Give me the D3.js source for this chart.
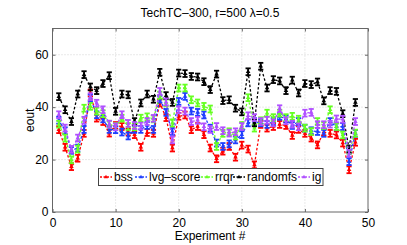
<!DOCTYPE html>
<html>
<head>
<meta charset="utf-8">
<script src="https://cdn.jsdelivr.net/npm/d3@7"></script>
<style>
  body { margin: 0; background: #fff; }
  svg { display: block; }
  text { font-family: "Liberation Sans", Arial, sans-serif; fill: #000; }
</style>
</head>
<body>
<svg id="viz_area" width="407" height="245"></svg>
<script>
// experiment index
var experiments = [1,2,3,4,5,6,7,8,9,10,11,12,13,14,15,16,17,18,19,20,21,22,23,24,
  25,26,27,28,29,30,31,32,33,34,35,36,37,38,39,40,41,42,43,44,45,46,47,48]

var bss = [31.4,24.7,17.3,20.5,30,45.4,35.8,34.5,30.1,33,32.6,30.5,29.5,24.7,30.3,30,
  41.6,36,24.4,36.5,37,31.4,32.6,29.5,24.4,20.3,23.2,25,20.9,25.5,24,18,
  33.4,32,32.6,33.4,33,29.2,31.5,30,28.2,25.6,30.5,30,29.4,26.3,16.1,26.6]
var lvgScore = [35,31,23.5,24.4,31.5,43.5,37.1,35.5,31.5,31.4,30.5,29,31.5,31.5,33,31.5,
  43,38,30.7,42.2,44.1,38.5,38,37,32,26.3,25,26,27.5,29.5,34,34.5,
  34,33.4,34.5,36.5,35.5,33,34.5,32,31,30.7,30,34.5,32.5,32.6,19.2,30]
var rrqr = [33.5,28.2,19.9,24,39.6,40.3,38.5,37.5,33.5,32.6,35.8,32.6,32.5,35.8,36.3,35.5,
  44.6,41.6,33.9,47.3,47.3,42.8,41.6,40.3,39.3,25,30,30.6,29,33,43.6,32,
  34.8,37.7,36,37.7,36,36.5,35.4,32,30.7,34.5,33,39,32.6,29.4,23.5,30.1]
var randomfs = [44,39,34.5,45,52.4,47.7,46.3,49,52,38.4,45,44.7,34.5,41.6,45,43,
  53.3,44.4,41.8,53,52.8,51.7,51.5,49.7,46.7,52.6,42.5,42.8,39.6,38.2,53.5,34,
  55.6,47.3,50.5,50,46.3,50.3,45.4,49,48.6,49.6,42.4,46.3,46,37.5,24,41.8]
var ig = [37.1,32,23.9,28.2,35,44,41.5,39,33.5,32.5,37.1,33.8,33,32.8,34.5,35.7,
  46,42,27.5,39,38.5,34.5,35,32.5,31.5,32.6,31,30.1,30.6,32.6,36.7,36,
  34.5,35,34,39.4,34.8,33.5,32.5,37.7,38,33.3,33.3,33.5,35.5,35.4,22.4,34.5]
var errorHalf = 1.3

var seriesNames = ["bss", "lvg\u2013score", "rrqr", "randomfs", "ig"]
var seriesValues = [bss, lvgScore, rrqr, randomfs, ig]
var seriesColors = ["#ff0000", "#1f3fff", "#66ff22", "#000000", "#b050ff"]

var xTicks = [0, 10, 20, 30, 40, 50]
var yTicks = [0, 20, 40, 60]

var svg = d3.select("#viz_area")
var pL = 52.5, pR = 368, pT = 28.5, pB = 212

var x = d3.scaleLinear().domain([0, 50]).range([pL, pR])
var y = d3.scaleLinear().domain([0, 70]).range([pB, pT])

// grid
svg.append("g").selectAll("line").data(xTicks.slice(1, -1)).join("line")
  .attr("x1", d => x(d)).attr("x2", d => x(d)).attr("y1", pT).attr("y2", pB)
  .attr("stroke", "#c8c8c8").attr("stroke-width", 0.8).attr("stroke-dasharray", "1,2")
svg.append("g").selectAll("line").data(yTicks.slice(1)).join("line")
  .attr("x1", pL).attr("x2", pR).attr("y1", d => y(d)).attr("y2", d => y(d))
  .attr("stroke", "#c8c8c8").attr("stroke-width", 0.8).attr("stroke-dasharray", "1,2")

// axes (ticks inside, MATLAB style)
var gx = svg.append("g").attr("transform", "translate(0," + pB + ")")
  .call(d3.axisBottom(x).tickValues(xTicks).tickSizeInner(-3).tickSizeOuter(0).tickPadding(6))
var gy = svg.append("g").attr("transform", "translate(" + pL + ",0)")
  .call(d3.axisLeft(y).tickValues(yTicks).tickSizeInner(-3).tickSizeOuter(0).tickPadding(4))
var gxt = svg.append("g").attr("transform", "translate(0," + pT + ")")
  .call(d3.axisTop(x).tickValues(xTicks).tickSizeInner(-3).tickSizeOuter(0).tickFormat(""))
var gyr = svg.append("g").attr("transform", "translate(" + pR + ",0)")
  .call(d3.axisRight(y).tickValues(yTicks).tickSizeInner(-3).tickSizeOuter(0).tickFormat(""))
;[gx, gy, gxt, gyr].forEach(function (g) {
  g.select(".domain").remove()
  g.selectAll("line").attr("stroke", "#666")
  g.selectAll("text").style("font-size", "12px").attr("fill", "#000")
})

svg.append("rect").attr("x", pL).attr("y", pT)
  .attr("width", pR - pL).attr("height", pB - pT)
  .attr("fill", "none").attr("stroke", "#666").attr("stroke-width", 1)

var line = d3.line().x((d, i) => x(experiments[i])).y(d => y(d))
var tri = d3.symbol().type(d3.symbolTriangle).size(9)

seriesValues.forEach(function (vals, s) {
  var c = seriesColors[s]
  var g = svg.append("g")
  g.append("path").datum(vals).attr("d", line)
    .attr("fill", "none").attr("stroke", c).attr("stroke-width", 1.3)
    .attr("stroke-dasharray", "2.5,2")
  var pts = g.selectAll(".pt").data(vals).join("g")
    .attr("transform", (d, i) => "translate(" + x(experiments[i]) + ",0)")
  pts.append("line").attr("x1", 0).attr("x2", 0)
    .attr("y1", d => y(d - errorHalf)).attr("y2", d => y(d + errorHalf))
    .attr("stroke", c).attr("stroke-width", 1.8)
  pts.append("line").attr("x1", -2.6).attr("x2", 2.6)
    .attr("y1", d => y(d - errorHalf)).attr("y2", d => y(d - errorHalf))
    .attr("stroke", c).attr("stroke-width", 1.8)
  pts.append("line").attr("x1", -2.6).attr("x2", 2.6)
    .attr("y1", d => y(d + errorHalf)).attr("y2", d => y(d + errorHalf))
    .attr("stroke", c).attr("stroke-width", 1.8)
  pts.append("path").attr("d", tri)
    .attr("transform", d => "translate(0," + y(d) + ")").attr("fill", c)
})

// legend
var lg = svg.append("g")
lg.append("rect").attr("x", 98.5).attr("y", 168.5).attr("width", 224.5).attr("height", 17)
  .attr("fill", "#fff").attr("stroke", "#444").attr("stroke-width", 1)
var legendX = [100, 135, 201, 233, 298]
seriesNames.forEach(function (name, s) {
  var lx = legendX[s], ly = 177
  lg.append("line").attr("x1", lx).attr("x2", lx + 12).attr("y1", ly).attr("y2", ly)
    .attr("stroke", seriesColors[s]).attr("stroke-width", 1.3).attr("stroke-dasharray", "2,1.5")
  lg.append("path").attr("d", d3.symbol().type(d3.symbolTriangle).size(7))
    .attr("transform", "translate(" + (lx + 6) + "," + ly + ")").attr("fill", seriesColors[s])
  lg.append("text").attr("x", lx + 14).attr("y", ly + 4.3).style("font-size", "12px").text(name)
})

// titles
svg.append("text").attr("x", 210).attr("y", 17).attr("text-anchor", "middle")
  .style("font-size", "12px").text("TechTC\u2013300, r=500 \u03bb=0.5")
svg.append("text").attr("x", 210).attr("y", 240).attr("text-anchor", "middle")
  .style("font-size", "12px").text("Experiment #")
svg.append("text").attr("transform", "translate(34," + ((pT + pB) / 2) + ") rotate(-90)")
  .attr("text-anchor", "middle").style("font-size", "12px").text("eout")
</script>
</body>
</html>
